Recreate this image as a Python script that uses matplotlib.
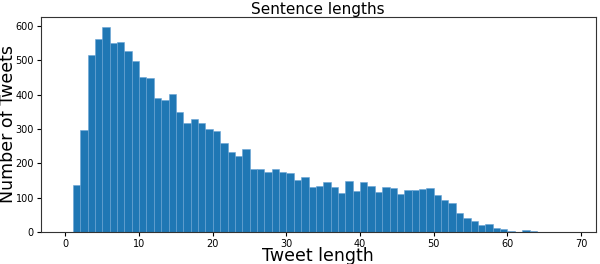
import matplotlib
matplotlib.use('Agg')
import matplotlib.pyplot as plt

# tweet length bins (left edges) and counts
lengths = list(range(1, 64))
counts = [138, 298, 517, 564, 597, 550, 553, 529, 498, 453,
          450, 390, 385, 401, 349, 318, 328, 317, 300, 294,
          260, 234, 220, 243, 182, 184, 174, 183, 175, 172,
          152, 160, 132, 134, 145, 130, 113, 149, 119, 145,
          135, 117, 132, 127, 110, 121, 123, 126, 129, 106,
          93, 83, 55, 40, 31, 19, 23, 12, 9, 3,
          0, 6, 3]
xticks = [0, 10, 20, 30, 40, 50, 60, 70]

fig = plt.figure(figsize=(6, 2.64), dpi=100)
ax = fig.add_axes([0.068, 0.122, 0.925, 0.815])

ax.bar(lengths, counts, width=1, align='edge', color='#1f77b4',
       edgecolor='#6aa3d4', linewidth=0.4)

ax.set_xlim(-3.35, 72)
ax.set_ylim(0, 628)
ax.set_xticks(xticks)
ax.tick_params(labelsize=7, length=3, pad=2)
for s in ax.spines.values():
    s.set_color('#333333')
ax.set_title("Sentence lengths", fontsize=11, pad=1)
ax.set_xlabel("Tweet length", fontsize=12.5, labelpad=-1)
ax.set_ylabel("Number of Tweets", fontsize=12.5, labelpad=-1)

fig.savefig('out.png', dpi=100)
